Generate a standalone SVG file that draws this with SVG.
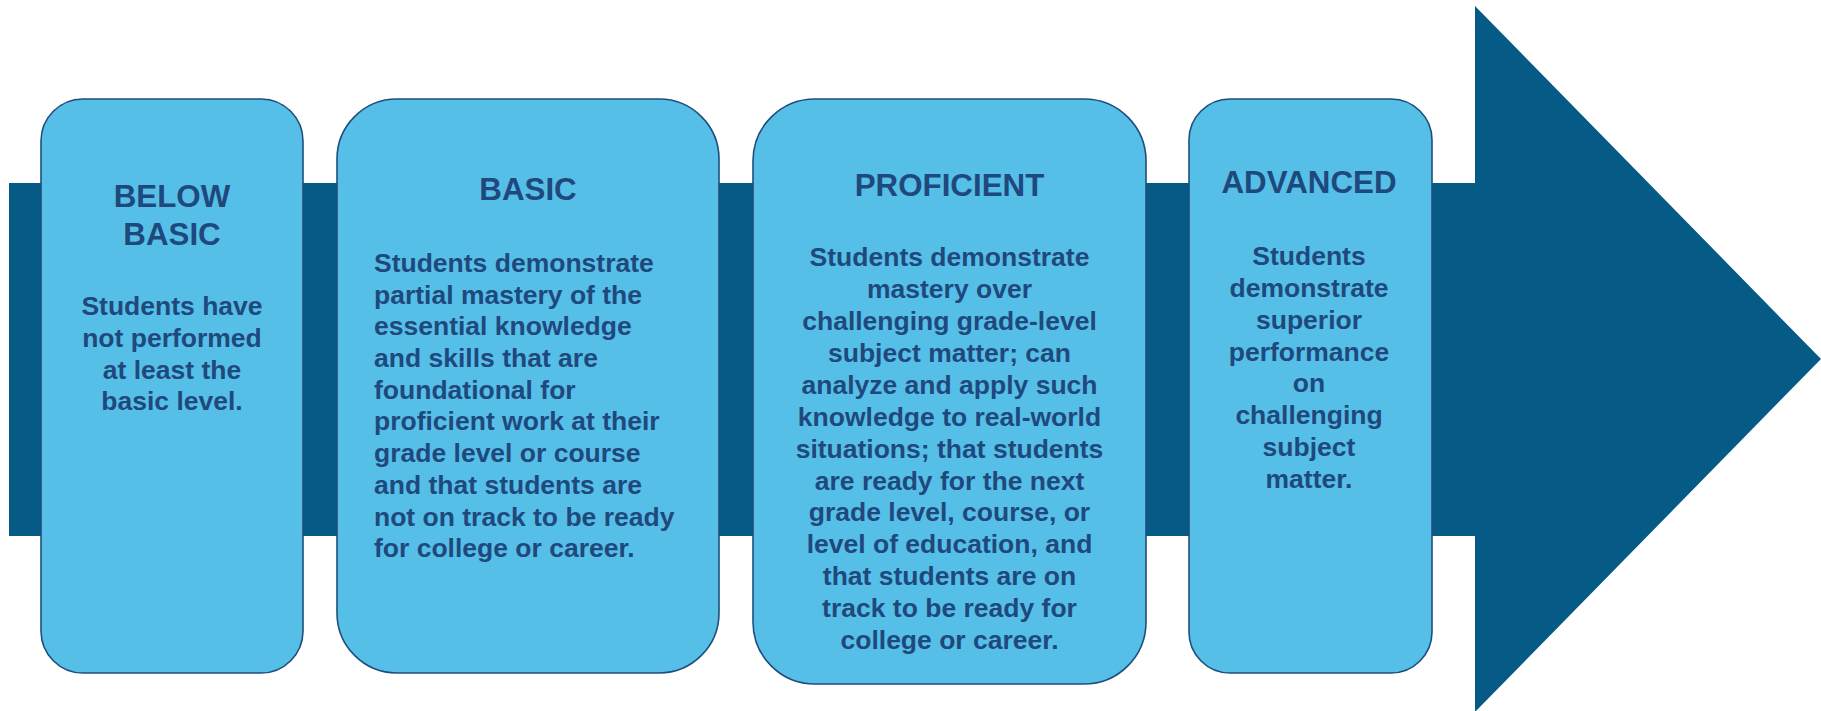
<svg xmlns="http://www.w3.org/2000/svg" width="1821" height="711" viewBox="0 0 1821 711">
<style>
.box{fill:#56BFE8;stroke:#1F4E7D;stroke-width:1.6}
.t{font-family:"Liberation Sans",Arial,sans-serif;font-weight:bold;fill:#1F497D}
.h{font-size:31.3px}
.b{font-size:26.5px}
</style>
<rect width="1821" height="711" fill="#ffffff"/>
<g id="arrow">
<path d="M9,183 H1475 V6 L1821,359 L1475,712 V536 H9 Z" fill="#055A86"/>
</g>
<g id="below-basic">
<rect class="box" x="41" y="99" width="262" height="574" rx="42" ry="42"/>
<text class="t h" text-anchor="middle" x="172"><tspan x="172" y="207">BELOW</tspan><tspan x="172" y="245">BASIC</tspan></text>
<text class="t b" text-anchor="middle"><tspan x="172" y="315">Students have</tspan><tspan x="172" y="346.8">not performed</tspan><tspan x="172" y="378.6">at least the</tspan><tspan x="172" y="410.4">basic level.</tspan></text>
</g>
<g id="basic">
<rect class="box" x="337" y="99" width="382" height="574" rx="60" ry="60"/>
<text class="t h" text-anchor="middle" x="528" y="200">BASIC</text>
<text class="t b"><tspan x="374" y="271.7">Students demonstrate</tspan><tspan x="374" y="303.5">partial mastery of the</tspan><tspan x="374" y="335.2">essential knowledge</tspan><tspan x="374" y="367">and skills that are</tspan><tspan x="374" y="398.7">foundational for</tspan><tspan x="374" y="430.4">proficient work at their</tspan><tspan x="374" y="462.2">grade level or course</tspan><tspan x="374" y="493.9">and that students are</tspan><tspan x="374" y="525.6">not on track to be ready</tspan><tspan x="374" y="557.3">for college or career.</tspan></text>
</g>
<g id="proficient">
<rect class="box" x="753" y="99" width="393" height="585" rx="62" ry="62"/>
<text class="t h" text-anchor="middle" x="949.5" y="196">PROFICIENT</text>
<text class="t b" text-anchor="middle"><tspan x="949.5" y="265.7">Students demonstrate</tspan><tspan x="949.5" y="297.7">mastery over</tspan><tspan x="949.5" y="329.6">challenging grade-level</tspan><tspan x="949.5" y="361.6">subject matter; can</tspan><tspan x="949.5" y="393.6">analyze and apply such</tspan><tspan x="949.5" y="425.5">knowledge to real-world</tspan><tspan x="949.5" y="457.5">situations; that students</tspan><tspan x="949.5" y="489.5">are ready for the next</tspan><tspan x="949.5" y="521.4">grade level, course, or</tspan><tspan x="949.5" y="553.4">level of education, and</tspan><tspan x="949.5" y="585.4">that students are on</tspan><tspan x="949.5" y="617.3">track to be ready for</tspan><tspan x="949.5" y="649.3">college or career.</tspan></text>
</g>
<g id="advanced">
<rect class="box" x="1189" y="99" width="243" height="574" rx="41" ry="41"/>
<text class="t h" text-anchor="middle" x="1309" y="193">ADVANCED</text>
<text class="t b" text-anchor="middle"><tspan x="1309" y="265">Students</tspan><tspan x="1309" y="296.9">demonstrate</tspan><tspan x="1309" y="328.7">superior</tspan><tspan x="1309" y="360.6">performance</tspan><tspan x="1309" y="392.4">on</tspan><tspan x="1309" y="424.3">challenging</tspan><tspan x="1309" y="456.1">subject</tspan><tspan x="1309" y="488">matter.</tspan></text>
</g>
<g id="connectors"></g>
</svg>
